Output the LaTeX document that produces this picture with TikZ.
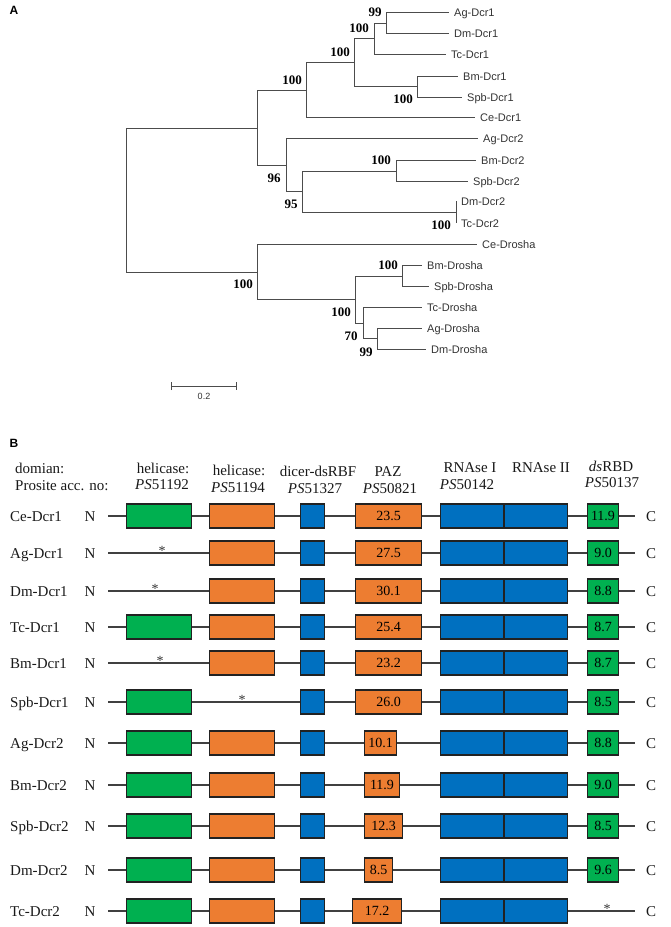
\documentclass[tikz,border=0pt]{standalone}
\usepackage{fontspec}
\setmainfont{Liberation Serif}
\newfontfamily\arialf{Liberation Sans}
\usetikzlibrary{arrows.meta}
\definecolor{hgreen}{HTML}{00B050}
\definecolor{horange}{HTML}{ED7D31}
\definecolor{hblue}{HTML}{0070C0}
\definecolor{darkline}{HTML}{222222}
\begin{document}
\begin{tikzpicture}[x=1pt,y=-1pt,
  treeline/.style={draw=black!70, line width=1pt},
  leaf/.style={anchor=base west, inner sep=0pt, font=\arialf\fontsize{11}{13}\selectfont, text=black!80},
  boot/.style={anchor=base, inner sep=0pt, font=\bfseries\fontsize{13}{15}\selectfont},
  panel/.style={inner sep=0pt, font=\arialf\bfseries\fontsize{12}{14}\selectfont},
  hdr/.style={anchor=base, inner sep=0pt, font=\fontsize{15}{17}\selectfont, text=black!90},
  rowlab/.style={anchor=base west, inner sep=0pt, font=\fontsize{15}{17}\selectfont, text=black!90},
  endlab/.style={anchor=base, inner sep=0pt, font=\fontsize{15}{17}\selectfont, text=black!90},
  dombox/.style={draw=darkline, line width=1.1pt, minimum height=24pt, inner sep=0pt, font=\fontsize{14}{16}\selectfont},
  backbone/.style={draw=black!75, line width=1.2pt},
  astx/.style={inner sep=0pt, font=\fontsize{14}{16}\selectfont, text=black!80}
]
\useasboundingbox (0,0) rectangle (670,927);

% ---------------- Panel A ----------------
\node[panel] (pA) at (14,10) {A};

% internal nodes
\coordinate (R) at (126,200);
\coordinate (Dc) at (257,128);
\coordinate (D1) at (306,90);
\coordinate (D1a) at (354,62);
\coordinate (D1b) at (374,38);
\coordinate (D1d) at (386,23);
\coordinate (D1c) at (417,86);
\coordinate (D2) at (286,165);
\coordinate (D2a) at (302,191);
\coordinate (D2b) at (396,171);
\coordinate (D2c) at (456,212);
\coordinate (Dr) at (257,272);
\coordinate (Dra) at (355,299);
\coordinate (Drb) at (402,276);
\coordinate (Drc) at (363,323);
\coordinate (Drd) at (377,338);

% leaves
\foreach \n/\x/\y/\t in {
  AgD1/449/12/Ag-Dcr1, DmD1/449/33/Dm-Dcr1, TcD1/446/54/Tc-Dcr1,
  BmD1/458/76/Bm-Dcr1, SpbD1/462/97/Spb-Dcr1, CeD1/475/117/Ce-Dcr1,
  AgD2/478/138/Ag-Dcr2, BmD2/476/160/Bm-Dcr2, SpbD2/468/181/Spb-Dcr2,
  DmD2/456/201/Dm-Dcr2, TcD2/456/223/Tc-Dcr2, CeDr/477/244/Ce-Drosha,
  BmDr/422/265/Bm-Drosha, SpbDr/429/286/Spb-Drosha, TcDr/422/307/Tc-Drosha,
  AgDr/422/328/Ag-Drosha, DmDr/426/349/Dm-Drosha}{
  \coordinate (\n) at (\x,\y);
  \node[leaf] (t\n) at ({\x+5},{\y+4}) {\t};
}

% branches
\foreach \a/\b in {R/Dc, R/Dr, Dc/D1, Dc/D2, D1/D1a, D1/CeD1, D1a/D1b, D1a/D1c,
  D1b/D1d, D1b/TcD1, D1d/AgD1, D1d/DmD1, D1c/BmD1, D1c/SpbD1,
  D2/AgD2, D2/D2a, D2a/D2b, D2a/D2c, D2b/BmD2, D2b/SpbD2, D2c/DmD2, D2c/TcD2,
  Dr/CeDr, Dr/Dra, Dra/Drb, Dra/Drc, Drb/BmDr, Drb/SpbDr, Drc/TcDr, Drc/Drd,
  Drd/AgDr, Drd/DmDr}{
  \draw[treeline] (\a) |- (\b);
}

% bootstrap values
\foreach \v/\x/\y [count=\i] in {99/375/12, 100/359/28, 100/340/52, 100/292/80,
  100/403/99, 96/274/178, 100/381/160, 95/291/204, 100/441/225, 100/243/284,
  100/388/265, 100/341/312, 70/351/336, 99/366/352}{
  \node[boot] (bs\i) at (\x,{\y+4.5}) {\v};
}

% scale bar
\coordinate (sbL) at (171,386);
\coordinate (sbR) at (237,386);
\draw[treeline, {Bar[width=8pt]}-{Bar[width=8pt]}] (sbL) -- (sbR);
\node[inner sep=0pt, font=\arialf\fontsize{9}{11}\selectfont, text=black!80] (sbT) at (204,396) {0.2};

% ---------------- Panel B ----------------
\node[panel] (pB) at (14,443) {B};

\node[hdr, anchor=base west] (h1) at (15,473) {domian:};
\node[hdr, anchor=base west] (h2) at (15,490) {Prosite acc. no:};
\node[hdr] (h3) at (163,473) {helicase:};
\node[hdr] (h4) at (162,489) {\textit{PS}51192};
\node[hdr] (h5) at (239,475) {helicase:};
\node[hdr] (h6) at (238,492) {\textit{PS}51194};
\node[hdr] (h7) at (318,476) {dicer-dsRBF};
\node[hdr] (h8) at (315,493) {\textit{PS}51327};
\node[hdr] (h9) at (388,476) {PAZ};
\node[hdr] (h10) at (390,493) {\textit{PS}50821};
\node[hdr] (h11) at (470,472) {RNAse I};
\node[hdr] (h12) at (467,489) {\textit{PS}50142};
\node[hdr] (h13) at (541,472) {RNAse II};
\node[hdr] (h14) at (611,471) {\textit{ds}RBD};
\node[hdr] (h15) at (612,487) {\textit{PS}50137};

\foreach \nm/\y/\g/\o/\pa/\pb/\pv/\dv/\ax [count=\i] in {
  Ce-Dcr1/516/1/1/355/422/23.5/11.9/0,
  Ag-Dcr1/553/0/1/355/422/27.5/9.0/162,
  Dm-Dcr1/591/0/1/355/422/30.1/8.8/155,
  Tc-Dcr1/627/1/1/355/422/25.4/8.7/0,
  Bm-Dcr1/663/0/1/355/422/23.2/8.7/160,
  Spb-Dcr1/702/1/0/355/422/26.0/8.5/242,
  Ag-Dcr2/743/1/1/364/397/10.1/8.8/0,
  Bm-Dcr2/785/1/1/364/400/11.9/9.0/0,
  Spb-Dcr2/826/1/1/364/403/12.3/8.5/0,
  Dm-Dcr2/870/1/1/364/393/8.5/9.6/0,
  Tc-Dcr2/911/1/1/352/402/17.2/0/607}{
  \node[rowlab] (lab\i) at (10,{\y+5.5}) {\nm};
  \node[endlab] (N\i) at (90,{\y+5.5}) {N};
  \node[endlab] (C\i) at (651,{\y+5.5}) {C};
  \coordinate (s\i) at (108,\y);
  \coordinate (e\i) at (635,\y);
  \draw[backbone] (s\i) -- (e\i);
  \ifnum\g=1
    \node[dombox, fill=hgreen, minimum width=64.9pt] (hg\i) at (159,\y) {};
  \fi
  \ifnum\o=1
    \node[dombox, fill=horange, minimum width=64.9pt] (ho\i) at (242,\y) {};
  \fi
  \node[dombox, fill=hblue, minimum width=23.9pt] (rb\i) at (312.5,\y) {};
  \pgfmathsetmacro\pw{\pb-\pa-1.1}
  \pgfmathsetmacro\pc{(\pa+\pb)/2}
  \node[dombox, fill=horange, minimum width=\pw pt] (paz\i) at (\pc,\y) {\pv};
  \node[dombox, fill=hblue, minimum width=62.9pt] (r1\i) at (472,\y) {};
  \node[dombox, fill=hblue, minimum width=62.9pt] (r2\i) at (536,\y) {};
  \ifdim\dv pt>0pt
    \node[dombox, fill=hgreen, minimum width=30.9pt] (ds\i) at (603,\y) {\dv};
  \fi
  \ifnum\ax>0
    \node[astx] (ast\i) at (\ax,{\y-2.5}) {*};
  \fi
}
\end{tikzpicture}
\end{document}
